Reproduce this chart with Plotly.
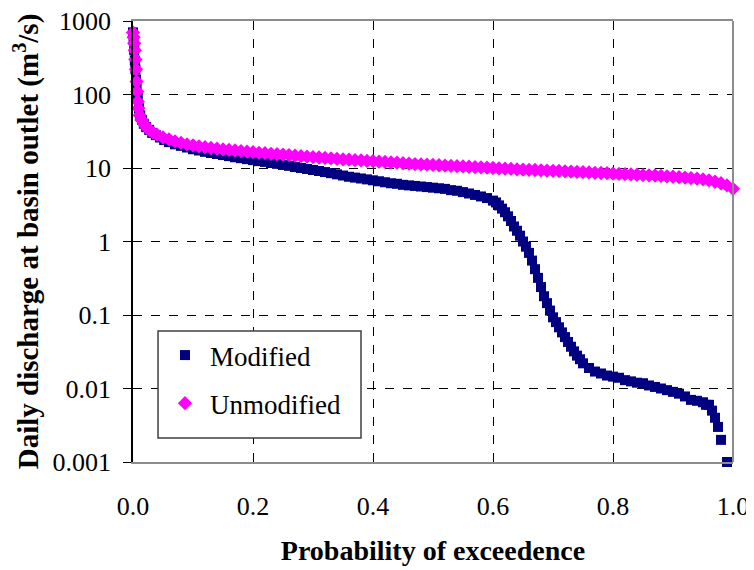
import plotly.graph_objects as go

# Modified series (probability of exceedence, daily discharge m3/s)
mod_p = [0.000, 0.001, 0.002, 0.003, 0.004, 0.005, 0.006, 0.008, 0.010, 0.012,
         0.015, 0.018, 0.022, 0.027, 0.032, 0.038, 0.045, 0.052, 0.06, 0.07,
         0.08, 0.09, 0.10, 0.11, 0.12, 0.13, 0.14, 0.15, 0.16, 0.17,
         0.18, 0.19, 0.20, 0.21, 0.22, 0.23, 0.24, 0.25, 0.26, 0.27,
         0.28, 0.29, 0.30, 0.31, 0.32, 0.33, 0.34, 0.35, 0.36, 0.37,
         0.38, 0.39, 0.40, 0.41, 0.42, 0.43, 0.44, 0.45, 0.46, 0.47,
         0.48, 0.49, 0.50, 0.51, 0.52, 0.53, 0.54, 0.55, 0.56, 0.57,
         0.58, 0.59, 0.60, 0.605, 0.61, 0.615, 0.62, 0.625, 0.63, 0.635,
         0.64, 0.645, 0.65, 0.655, 0.66, 0.665, 0.67, 0.675, 0.68, 0.685,
         0.69, 0.695, 0.70, 0.705, 0.71, 0.715, 0.72, 0.725, 0.73, 0.735,
         0.74, 0.745, 0.75, 0.76, 0.77, 0.78, 0.79, 0.80, 0.81, 0.82,
         0.83, 0.84, 0.85, 0.86, 0.87, 0.88, 0.89, 0.90, 0.91, 0.92,
         0.93, 0.94, 0.95, 0.955, 0.96, 0.965, 0.97, 0.975, 0.98, 0.99]
mod_q = [700, 550, 400, 290, 220, 160, 120, 90, 65, 52,
         45, 40, 36, 33, 30, 28, 26, 24, 22.5, 21,
         20, 19, 18, 17.3, 16.6, 16, 15.5, 15, 14.5, 14,
         13.6, 13.2, 12.8, 12.4, 12.1, 11.7, 11.4, 11, 10.7, 10.3,
         10, 9.7, 9.4, 9.1, 8.8, 8.5, 8.2, 7.9, 7.6, 7.4,
         7.2, 7.0, 6.8, 6.6, 6.4, 6.2, 6.1, 5.9, 5.8, 5.7,
         5.6, 5.5, 5.4, 5.3, 5.2, 5.0, 4.9, 4.7, 4.5, 4.3,
         4.1, 3.9, 3.6, 3.4, 3.1, 2.8, 2.5, 2.2, 1.9, 1.6,
         1.4, 1.2, 1.0, 0.85, 0.7, 0.55, 0.42, 0.32, 0.24, 0.18,
         0.145, 0.115, 0.093, 0.08, 0.068, 0.058, 0.05, 0.043, 0.037, 0.032,
         0.028, 0.025, 0.022, 0.019, 0.017, 0.016, 0.015, 0.0145, 0.014, 0.013,
         0.0125, 0.012, 0.0118, 0.011, 0.0105, 0.01, 0.0095, 0.009, 0.0085, 0.0078,
         0.007, 0.0068, 0.0065, 0.006, 0.006, 0.005, 0.004, 0.003, 0.002, 0.001]

# Unmodified series
unmod_p = [0.000, 0.001, 0.002, 0.003, 0.004, 0.005, 0.006, 0.007, 0.008, 0.009,
           0.011, 0.014, 0.018, 0.022, 0.027, 0.033, 0.04, 0.05, 0.06, 0.07,
           0.08, 0.09, 0.10, 0.11, 0.12, 0.13, 0.14, 0.15, 0.16, 0.17,
           0.18, 0.19, 0.20, 0.21, 0.22, 0.23, 0.24, 0.25, 0.26, 0.27,
           0.28, 0.29, 0.30, 0.31, 0.32, 0.33, 0.34, 0.35, 0.36, 0.37,
           0.38, 0.39, 0.40, 0.41, 0.42, 0.43, 0.44, 0.45, 0.46, 0.47,
           0.48, 0.49, 0.50, 0.51, 0.52, 0.53, 0.54, 0.55, 0.56, 0.57,
           0.58, 0.59, 0.60, 0.61, 0.62, 0.63, 0.64, 0.65, 0.66, 0.67,
           0.68, 0.69, 0.70, 0.71, 0.72, 0.73, 0.74, 0.75, 0.76, 0.77,
           0.78, 0.79, 0.80, 0.81, 0.82, 0.83, 0.84, 0.85, 0.86, 0.87,
           0.88, 0.89, 0.90, 0.91, 0.92, 0.93, 0.94, 0.95, 0.96, 0.97,
           0.98, 0.99, 1.00]
unmod_q = [700, 600, 500, 400, 300, 220, 150, 110, 80, 65,
           52, 45, 40, 36, 33, 30.5, 28.5, 26, 24.5, 23,
           22, 21, 20.3, 19.7, 19.2, 18.7, 18.3, 17.9, 17.6, 17.3,
           17.0, 16.7, 16.4, 16.1, 15.9, 15.6, 15.4, 15.2, 15.0, 14.7,
           14.5, 14.3, 14.1, 13.9, 13.7, 13.5, 13.3, 13.1, 13.0, 12.8,
           12.7, 12.5, 12.4, 12.2, 12.1, 11.9, 11.8, 11.6, 11.5, 11.3,
           11.2, 11.1, 11.0, 10.9, 10.8, 10.7, 10.6, 10.5, 10.4, 10.3,
           10.2, 10.1, 10.0, 9.9, 9.8, 9.7, 9.6, 9.5, 9.45, 9.4,
           9.3, 9.2, 9.15, 9.1, 9.0, 8.9, 8.85, 8.8, 8.7, 8.6,
           8.55, 8.5, 8.4, 8.3, 8.25, 8.2, 8.1, 8.0, 7.95, 7.9,
           7.8, 7.7, 7.6, 7.5, 7.4, 7.3, 7.15, 7.0, 6.8, 6.5,
           6.2, 5.8, 5.2]

x_ticks = [0.0, 0.2, 0.4, 0.6, 0.8, 1.0]
x_ticklabels = ["0.0", "0.2", "0.4", "0.6", "0.8", "1.0"]
y_ticks = [0.001, 0.01, 0.1, 1, 10, 100, 1000]
y_ticklabels = ["0.001", "0.01", "0.1", "1", "10", "100", "1000"]

FONT = "Liberation Serif"

fig = go.Figure()
fig.add_trace(go.Scatter(
    x=mod_p, y=mod_q, mode="markers", name="Modified", legendgroup="a",
    marker=dict(symbol="square", size=10, color="#000080"), cliponaxis=False))
fig.add_trace(go.Scatter(
    x=unmod_p, y=unmod_q, mode="markers", name="Unmodified", legendgroup="b",
    marker=dict(symbol="diamond", size=11, color="#FF00FF"), cliponaxis=False))

frame = dict(color="#8c8c8c", width=2)
fig.update_layout(
    width=754, height=570,
    margin=dict(l=125, r=29, t=13, b=116, autoexpand=False),
    paper_bgcolor="white", plot_bgcolor="white",
    font=dict(family=FONT, size=26, color="black"),
    showlegend=True,
    legend=dict(x=0.045, y=0.297, xanchor="left", yanchor="top",
                bgcolor="rgba(0,0,0,0)", borderwidth=0,
                font=dict(family=FONT, size=27), tracegroupgap=10,
                traceorder="grouped", itemwidth=40),
    shapes=[
        dict(type="line", xref="paper", yref="paper", x0=1, x1=1, y0=0, y1=1, line=frame, layer="above"),
        dict(type="rect", xref="paper", yref="paper", x0=0.0417, x1=0.38, y0=0.0544, y1=0.297,
             line=dict(color="#404040", width=1.5), fillcolor="white", layer="above"),
    ],
)
fig.update_xaxes(
    range=[0, 1], tickvals=x_ticks, ticktext=x_ticklabels, automargin=False,
    showgrid=True, gridcolor="black", griddash="dash", gridwidth=1,
    ticks="", ticklabelstandoff=20, zeroline=False,
    showline=True, mirror=True, linecolor="#8c8c8c", linewidth=2,
    title=dict(text="<b>Probability of exceedence</b>", font=dict(size=28), standoff=20),
)
fig.update_yaxes(
    type="log", range=[-3, 3], tickvals=y_ticks, ticktext=y_ticklabels, automargin=False,
    showgrid=True, gridcolor="black", griddash="dash", gridwidth=1,
    ticks="outside", ticklen=8, tickcolor="black", ticklabelstandoff=7,
    ticklabeloverflow="allow",
    showline=True, linecolor="black", linewidth=1.5, zeroline=False,
    title=dict(text="<b>Daily discharge at basin outlet (m<sup>3</sup>/s)</b>",
               font=dict(size=29), standoff=6),
)
fig.write_html("out.html")
